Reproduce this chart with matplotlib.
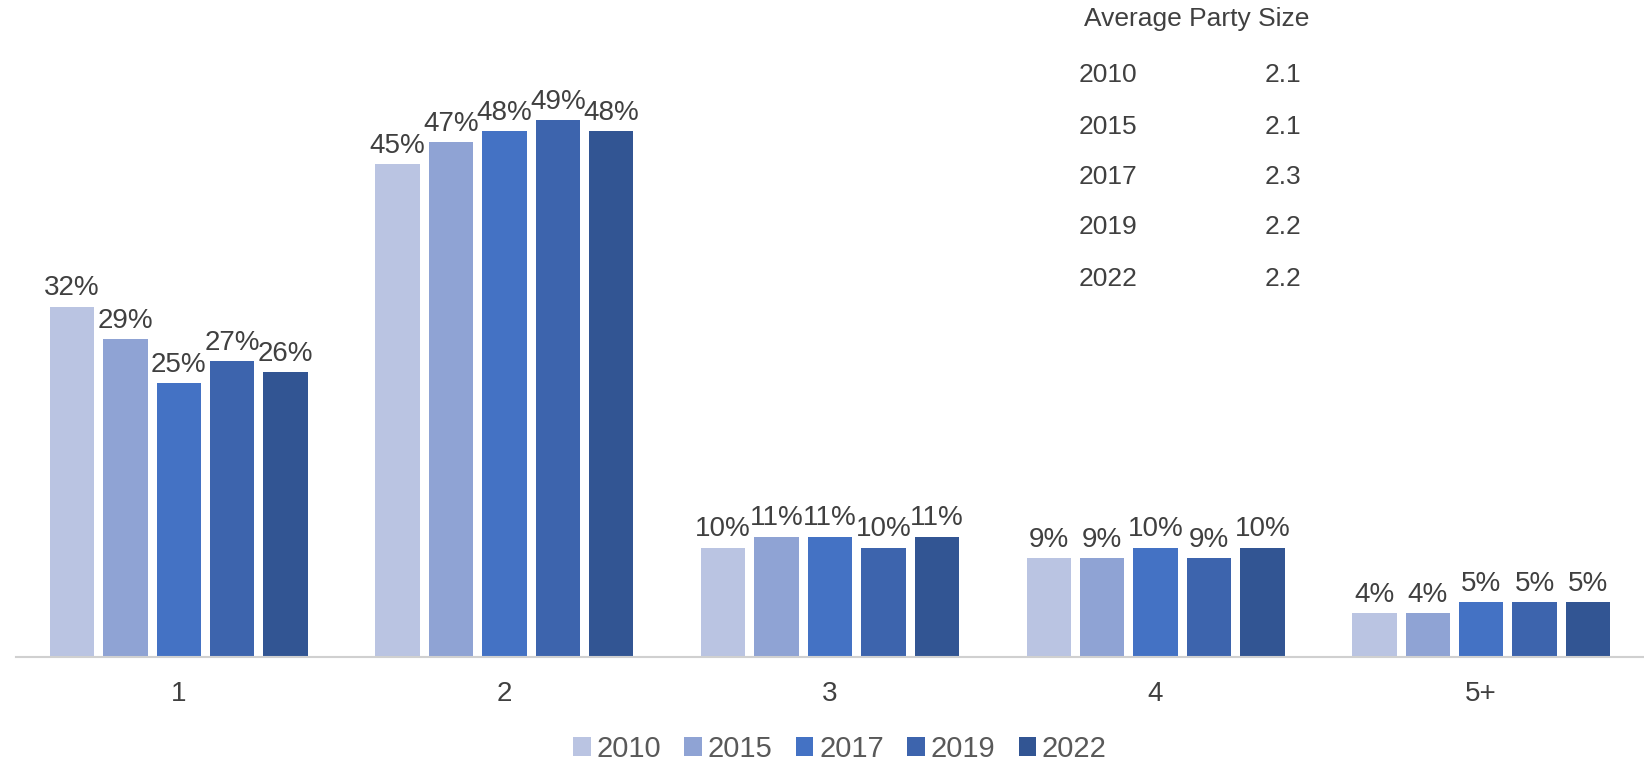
import numpy as np
import matplotlib.pyplot as plt

plt.rcParams['font.family'] = ['Liberation Sans', 'DejaVu Sans']

categories = ["1", "2", "3", "4", "5+"]
years = ["2010", "2015", "2017", "2019", "2022"]
share_2010 = [32, 45, 10, 9, 4]
share_2015 = [29, 47, 11, 9, 4]
share_2017 = [25, 48, 11, 10, 5]
share_2019 = [27, 49, 10, 9, 5]
share_2022 = [26, 48, 11, 10, 5]
avg_party_size = ["2.1", "2.1", "2.3", "2.2", "2.2"]

series = [share_2010, share_2015, share_2017, share_2019, share_2022]
colors = ["#BAC4E2", "#8FA3D4", "#4472C4", "#3D64AD", "#325593"]

fig = plt.figure(figsize=(16.44, 7.63), dpi=100)
ax = fig.add_axes([16 / 1644, 106 / 763, 1 - 16 / 1644, 657 / 763])

x = np.arange(len(categories))
step = 0.164
width = 0.136
for i, (vals, col, yr) in enumerate(zip(series, colors, years)):
    bars = ax.bar(x + (i - 2) * step, vals, width, color=col, label=yr)
    ax.bar_label(bars, labels=[f"{v}%" for v in vals], padding=4,
                 fontsize=20, color="#404040")

ax.set_xlim(-0.5, 4.5)
ax.set_ylim(0, 60)
ax.set_xticks(x)
ax.set_xticklabels(categories, fontsize=20, color="#404040")
ax.tick_params(axis="x", length=0, pad=17)
ax.set_yticks([])
for s in ["top", "left", "right"]:
    ax.spines[s].set_visible(False)
ax.spines["bottom"].set_color("#D0D0D0")
ax.spines["bottom"].set_linewidth(1.5)

# average party size table
fig.text(1197 / 1644, 1 - 19 / 763, "Average Party Size", ha="center", va="center",
         fontsize=19, color="#404040")
row_y = [75, 127, 177, 227, 279]
for yr, val, ry in zip(years, avg_party_size, row_y):
    fig.text(1079 / 1644, 1 - ry / 763, yr, ha="left", va="center", fontsize=19, color="#404040")
    fig.text(1265 / 1644, 1 - ry / 763, val, ha="left", va="center", fontsize=19, color="#404040")

leg = fig.legend(loc="center", bbox_to_anchor=(840 / 1644, 1 - 749 / 763), ncol=5,
                 frameon=False, fontsize=21, handlelength=0.6, handleheight=0.6,
                 handletextpad=0.2, columnspacing=0.8, labelcolor="#595959")

fig.savefig("out.png", dpi=100)
